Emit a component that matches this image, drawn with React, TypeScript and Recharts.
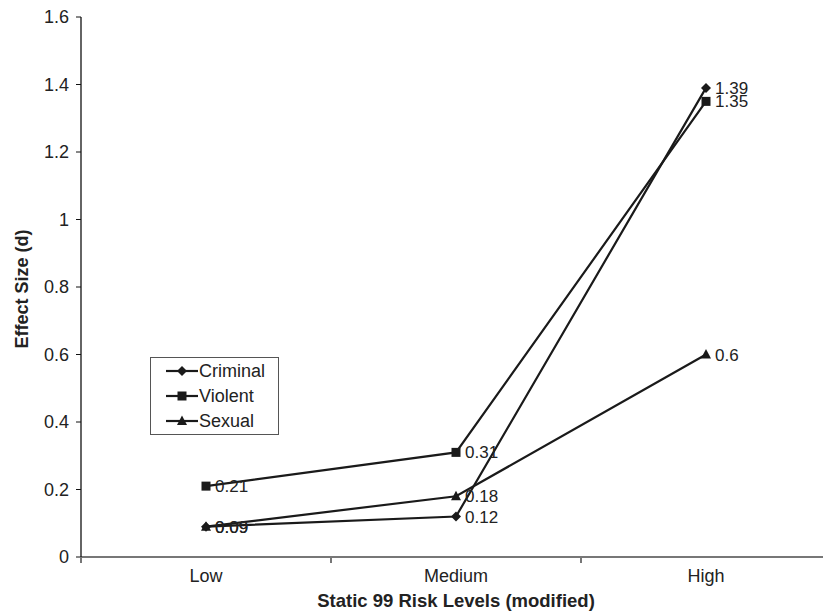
import { LineChart, Line, XAxis, YAxis, LabelList } from 'recharts';

const categories = ['Low', 'Medium', 'High'];
const criminal = [0.09, 0.12, 1.39];
const violent = [0.21, 0.31, 1.35];
const sexual = [0.09, 0.18, 0.6];
const yTicks = [0, 0.2, 0.4, 0.6, 0.8, 1, 1.2, 1.4, 1.6];
const xTicks = [0, 0.5, 1, 1.5, 2, 2.5, 3];

const series = [
  { key: 'criminal', name: 'Criminal', shape: 'diamond' },
  { key: 'violent', name: 'Violent', shape: 'square' },
  { key: 'sexual', name: 'Sexual', shape: 'triangle' },
];

const data = categories.map((cat, i) => ({
  cat,
  x: i + 0.5,
  criminal: criminal[i],
  violent: violent[i],
  sexual: sexual[i],
}));

const FONT = '"Liberation Sans", Arial, sans-serif';
const INK = '#1a1a1a';

function Marker({ cx, cy, shape }: any) {
  if (cx == null || cy == null) return null;
  if (shape === 'diamond') {
    return <polygon points={`${cx},${cy - 5} ${cx + 5},${cy} ${cx},${cy + 5} ${cx - 5},${cy}`} fill={INK} />;
  }
  if (shape === 'square') {
    return <rect x={cx - 4.5} y={cy - 4.5} width={9} height={9} fill={INK} />;
  }
  return <polygon points={`${cx},${cy - 5.5} ${cx + 5},${cy + 4} ${cx - 5},${cy + 4}`} fill={INK} />;
}

// integer ticks = band boundaries (tick marks), half ticks = category names
function CatTick({ x, y, payload }: any) {
  const v = payload.value;
  if (Number.isInteger(v)) {
    return <line x1={x} y1={y} x2={x} y2={y + 6} stroke="#777" strokeWidth={2} />;
  }
  return (
    <text x={x} y={y + 19} textAnchor="middle" dominantBaseline="central" fontSize={18} fill="#222" fontFamily={FONT}>
      {categories[Math.floor(v)]}
    </text>
  );
}

function LegendBox() {
  return (
    <div
      style={{
        position: 'absolute',
        left: 150,
        top: 357,
        width: 129,
        height: 78,
        border: '1px solid #555',
        boxSizing: 'border-box',
        background: '#fff',
        fontFamily: FONT,
        fontSize: 18,
        color: '#222',
      }}
    >
      {series.map((s, i) => (
        <div
          key={s.key}
          style={{ position: 'absolute', left: 14, top: 0.5 + i * 25, height: 25, display: 'flex', alignItems: 'center' }}
        >
          <svg width={34} height={14}>
            <line x1={1} y1={7} x2={33} y2={7} stroke={INK} strokeWidth={2.2} />
            <Marker cx={17} cy={7} shape={s.shape} />
          </svg>
          <span style={{ marginLeft: 0, lineHeight: '25px' }}>{s.name}</span>
        </div>
      ))}
    </div>
  );
}

export default function App() {
  return (
    <div style={{ position: 'absolute', left: 0, top: 0, width: 823, height: 615, overflow: 'hidden', background: '#fff' }}>
      <LineChart width={840} height={615} data={data} margin={{ top: 17, right: 9, left: 0, bottom: 0 }}>
        <XAxis
          dataKey="x"
          type="number"
          domain={[0, 3]}
          ticks={xTicks}
          interval={0}
          tickSize={0}
          tickMargin={0}
          tickLine={false}
          tick={<CatTick />}
          height={58}
          axisLine={{ stroke: '#777', strokeWidth: 2 }}
          label={{
            value: 'Static 99 Risk Levels (modified)',
            position: 'insideBottom',
            offset: 8,
            style: { fontWeight: 'bold', fontSize: 18.5, fill: '#222', fontFamily: FONT },
          }}
        />
        <YAxis
          domain={[0, 1.6]}
          ticks={yTicks}
          interval={0}
          width={81}
          tickSize={5}
          tickMargin={7}
          tick={{ fontSize: 18, fill: '#222', fontFamily: FONT }}
          axisLine={{ stroke: '#111', strokeWidth: 1.3 }}
          tickLine={{ stroke: '#111' }}
          label={{
            value: 'Effect Size (d)',
            angle: -90,
            position: 'center',
            dx: -18.5,
            dy: 2,
            style: { fontWeight: 'bold', fontSize: 18, fill: '#222', fontFamily: FONT, textAnchor: 'middle' },
          }}
        />
        {series.map((s) => (
          <Line
            key={s.key}
            dataKey={s.key}
            name={s.name}
            type="linear"
            stroke={INK}
            strokeWidth={2.2}
            isAnimationActive={false}
            dot={(p: any) => <Marker key={`${s.key}-${p.index}`} cx={p.cx} cy={p.cy} shape={s.shape} />}
            activeDot={false}
          >
            <LabelList dataKey={s.key} position="right" offset={9} fontSize={17} fill="#222" fontFamily={FONT} />
          </Line>
        ))}
      </LineChart>
      <LegendBox />
    </div>
  );
}
